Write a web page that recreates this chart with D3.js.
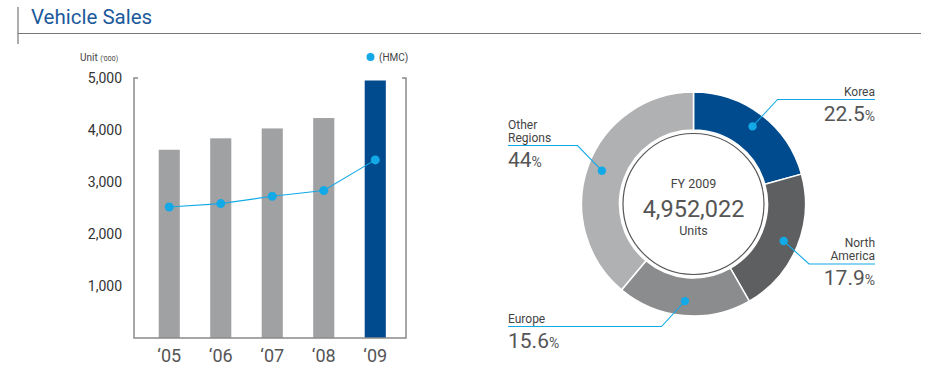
<!DOCTYPE html>
<html>
<head>
<meta charset="utf-8">
<script src="https://cdn.jsdelivr.net/npm/d3@7"></script>
<style>
  body { margin: 0; background: #fff; }
  svg { display: block; font-family: Roboto, "Noto Sans", sans-serif; }
</style>
</head>
<body>
<svg id="chart" width="939" height="372"></svg>
<script>
// bar chart data ('000 units)
const years = ["\u201805", "\u201806", "\u201807", "\u201808", "\u201809"];
const totalSales = [3620, 3840, 4030, 4230, 4952];
const hmcSales = [2520, 2585, 2725, 2835, 3425];
const yTicks = [1000, 2000, 3000, 4000, 5000];

// donut data, FY 2009
const regions = ["Korea", "North America", "Europe", "Other Regions"];
const regionLabel = [["Korea"], ["North", "America"], ["Europe"], ["Other", "Regions"]];
const regionShare = ["22.5", "17.9", "15.6", "44"];
// slice sizes as drawn in the picture (the printed shares are not to scale)
const regionArc = [20.7, 21.0, 19.4, 38.9];
const regionColor = ["#004b8d", "#5e5f61", "#8b8c8e", "#b0b1b3"];

const svg = d3.select("#chart");
const textColor = "#555";
const cyan = "#13a9e6";

// header
svg.append("line").attr("x1", 18).attr("x2", 18).attr("y1", 7).attr("y2", 44)
  .attr("stroke", "#777").attr("stroke-width", 1.2);
svg.append("line").attr("x1", 18).attr("x2", 921).attr("y1", 33.5).attr("y2", 33.5)
  .attr("stroke", "#777").attr("stroke-width", 1.2);
svg.append("text").attr("x", 31).attr("y", 23.5)
  .attr("font-size", 20.5).attr("fill", "#1d5a9b")
  .text("Vehicle Sales");

// ---- bar chart ----
const plotL = 134, plotR = 406, plotT = 78, plotB = 338;

const x = d3.scaleBand().domain(years)
  .range([143.5, 401])
  .paddingInner(0.59).paddingOuter(0.295);
const y = d3.scaleLinear().domain([0, 5000]).range([plotB, plotT]);

const bars = svg.append("g");
bars.selectAll("rect")
  .data(totalSales)
  .enter().append("rect")
  .attr("x", (d, i) => x(years[i]))
  .attr("width", x.bandwidth())
  .attr("y", d => y(d))
  .attr("height", d => y(0) - y(d))
  .attr("fill", (d, i) => i === years.length - 1 ? "#004b8d" : "#a0a1a3");

// frame
svg.append("path")
  .attr("d", `M${plotL + 4},${plotT}H${plotL}V${plotB}H${plotR}V${plotT}H${plotR - 4}`)
  .attr("fill", "none").attr("stroke", "#8a8a8a").attr("stroke-width", 1.5);

// y axis labels
const yAxis = svg.append("g")
  .attr("transform", `translate(${plotL},0)`)
  .call(d3.axisLeft(y).tickValues(yTicks).tickSize(0).tickPadding(12)
    .tickFormat(d3.format(",")));
yAxis.select(".domain").remove();
yAxis.selectAll("text").attr("font-size", 14).attr("fill", "#333")
  .attr("font-family", "Roboto, sans-serif");

// x axis labels
const xAxis = svg.append("g")
  .attr("transform", `translate(0,${plotB})`)
  .call(d3.axisBottom(x).tickSize(0).tickPadding(11));
xAxis.select(".domain").remove();
xAxis.selectAll("text").attr("font-size", 18).attr("fill", textColor)
  .attr("font-family", "Roboto, sans-serif");

// HMC line
const cx = (d, i) => x(years[i]) + x.bandwidth() / 2;
svg.append("path")
  .datum(hmcSales)
  .attr("d", d3.line().x(cx).y(d => y(d)))
  .attr("fill", "none").attr("stroke", cyan).attr("stroke-width", 1.1);
svg.append("g").selectAll("circle")
  .data(hmcSales)
  .enter().append("circle")
  .attr("cx", cx).attr("cy", d => y(d)).attr("r", 4.5)
  .attr("fill", cyan);

// unit + legend
const unit = svg.append("text").attr("x", 80).attr("y", 60.5)
  .attr("font-size", 10).attr("fill", "#444");
unit.append("tspan").text("Unit ");
unit.append("tspan").attr("font-size", 7).text("('000)");
svg.append("circle").attr("cx", 370.5).attr("cy", 57).attr("r", 4).attr("fill", cyan);
svg.append("text").attr("x", 379).attr("y", 60.5)
  .attr("font-size", 10).attr("fill", "#444").text("(HMC)");

// ---- donut ----
const dcx = 693.5, dcy = 204;
const outerR = 112, innerR = 74;
const donut = svg.append("g").attr("transform", `translate(${dcx},${dcy})`);

const pie = d3.pie().sort(null).value(d => d);
const arcs = pie(regionArc);
const arc = d3.arc().innerRadius(innerR).outerRadius(outerR);
const dotArc = d3.arc().innerRadius(97.5).outerRadius(97.5);

donut.selectAll("path")
  .data(arcs)
  .enter().append("path")
  .attr("d", arc)
  .attr("fill", (d, i) => regionColor[i])
  .attr("stroke", "#fff").attr("stroke-width", 1.5);

donut.append("circle").attr("r", 70.5)
  .attr("fill", "none").attr("stroke", "#555").attr("stroke-width", 1.2);

donut.append("text").attr("y", -16).attr("text-anchor", "middle")
  .attr("font-size", 12.5).attr("fill", "#444").text("FY 2009");
donut.append("text").attr("y", 12.5).attr("text-anchor", "middle")
  .attr("font-size", 23.5).attr("fill", textColor).text(d3.format(",")(4952022));
donut.append("text").attr("y", 31).attr("text-anchor", "middle")
  .attr("font-size", 12.5).attr("fill", "#444").text("Units");

// label layout: elbow point of leader, label edge, anchor side
const labelPos = [
  { ex: 777.5, ey: 99.5, lx: 875, anchor: "end" },
  { ex: 809, ey: 264, lx: 875, anchor: "end" },
  { ex: 661.5, ey: 326.5, lx: 508, anchor: "start" },
  { ex: 577.5, ey: 145.5, lx: 508, anchor: "start" }
];

arcs.forEach((a, i) => {
  const c = dotArc.centroid(a);
  const px = dcx + c[0], py = dcy + c[1];
  const p = labelPos[i];
  svg.append("path")
    .attr("d", `M${px},${py}L${p.ex},${p.ey}H${p.lx}`)
    .attr("fill", "none").attr("stroke", cyan).attr("stroke-width", 1.1);
  svg.append("circle").attr("cx", px).attr("cy", py).attr("r", 4.2).attr("fill", cyan);

  const lines = regionLabel[i];
  lines.forEach((t, j) => {
    svg.append("text")
      .attr("x", p.lx).attr("y", p.ey - 4 - (lines.length - 1 - j) * 13)
      .attr("text-anchor", p.anchor)
      .attr("font-size", 12).attr("fill", "#444").text(t);
  });
  const pct = svg.append("text")
    .attr("x", p.lx).attr("y", p.ey + 21)
    .attr("text-anchor", p.anchor)
    .attr("fill", textColor);
  pct.append("tspan").attr("font-size", 21).text(regionShare[i]);
  pct.append("tspan").attr("font-size", 14).text("%");
});
</script>
</body>
</html>
